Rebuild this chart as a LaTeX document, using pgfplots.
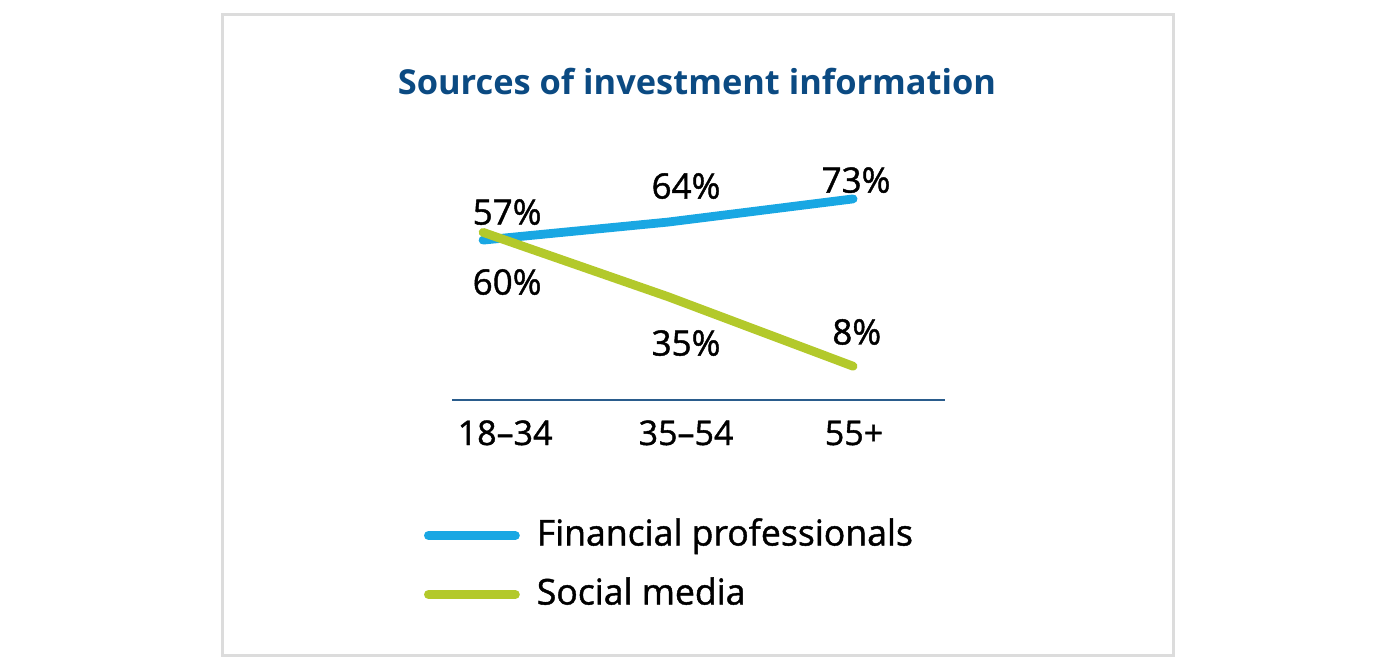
\documentclass[border=0pt]{standalone}
\usepackage{fontspec}
\setmainfont{Open Sans}[UprightFeatures={RawFeature={embolden=1.2}}]
\usepackage{pgfplots}
\pgfplotsset{compat=1.18}
\definecolor{finblue}{HTML}{19A7E3}
\definecolor{socgreen}{HTML}{B3C92B}
\definecolor{titleblue}{HTML}{0B4A82}
\definecolor{axisblue}{HTML}{2A5C8C}
\definecolor{framegray}{HTML}{DCDCDC}

\begin{document}
\begin{tikzpicture}
  \useasboundingbox (0pt,0pt) rectangle (700pt,335.5pt);
  \draw[framegray, line width=1.5pt] (111pt,8pt) rectangle (586.5pt,328pt);
  \node[titleblue, font=\bfseries\fontsize{17.2}{20}\selectfont] at (348.5pt,294.5pt) {Sources of investment information};

  \begin{axis}[
      at={(226pt,135.5pt)}, anchor=south west,
      scale only axis,
      width=246.5pt, height=125pt,
      xmin=-0.168, xmax=2.497,
      ymin=-5.13, ymax=92,
      axis x line=bottom, axis y line=none,
      x axis line style={-, draw=axisblue, line width=0.8pt},
      xtick={0.119,1.097,2.005},
      xticklabels={18–34,35–54,55+},
      major tick length=0pt,
      xticklabel style={anchor=base, yshift=-22.5pt, font=\fontsize{17}{20}\selectfont},
      clip=false,
      legend cell align=left,
      legend style={at={(-0.0568,-0.66)}, anchor=west, draw=none, fill=none,
        inner sep=0pt, outer sep=0pt, row sep=11.5pt, column sep=8.5pt,
        font=\fontsize{17.8}{21}\selectfont,
        nodes={inner sep=0pt, text height=14pt, text depth=4pt}},
      legend image code/.code={
        \path (0pt,0pt) -- (43.5pt,0pt);
        \draw[#1, line cap=round] (2.2pt,0pt) -- (41.3pt,0pt);},
    ]

    \addplot[finblue, line width=4.4pt, line cap=round, line join=round]
      coordinates {(0,57)(1,64)(2,73)};
    \addlegendentry{Financial professionals}
    \addplot[socgreen, line width=4.4pt, line cap=round, line join=round]
      coordinates {(0,60)(1,35)(2,8)};
    \addlegendentry{Social media}

    % value labels
    \node[font=\fontsize{17.5}{20}\selectfont] at (axis cs:0.13,67.9) {57\%};
    \node[font=\fontsize{17.5}{20}\selectfont] at (axis cs:1.097,78.0) {64\%};
    \node[font=\fontsize{17.5}{20}\selectfont] at (axis cs:2.016,80.3) {73\%};
    \node[font=\fontsize{17.5}{20}\selectfont] at (axis cs:0.13,40.7) {60\%};
    \node[font=\fontsize{17.5}{20}\selectfont] at (axis cs:1.097,17.0) {35\%};
    \node[font=\fontsize{17.5}{20}\selectfont] at (axis cs:2.02,21.3) {8\%};
  \end{axis}
\end{tikzpicture}
\end{document}
